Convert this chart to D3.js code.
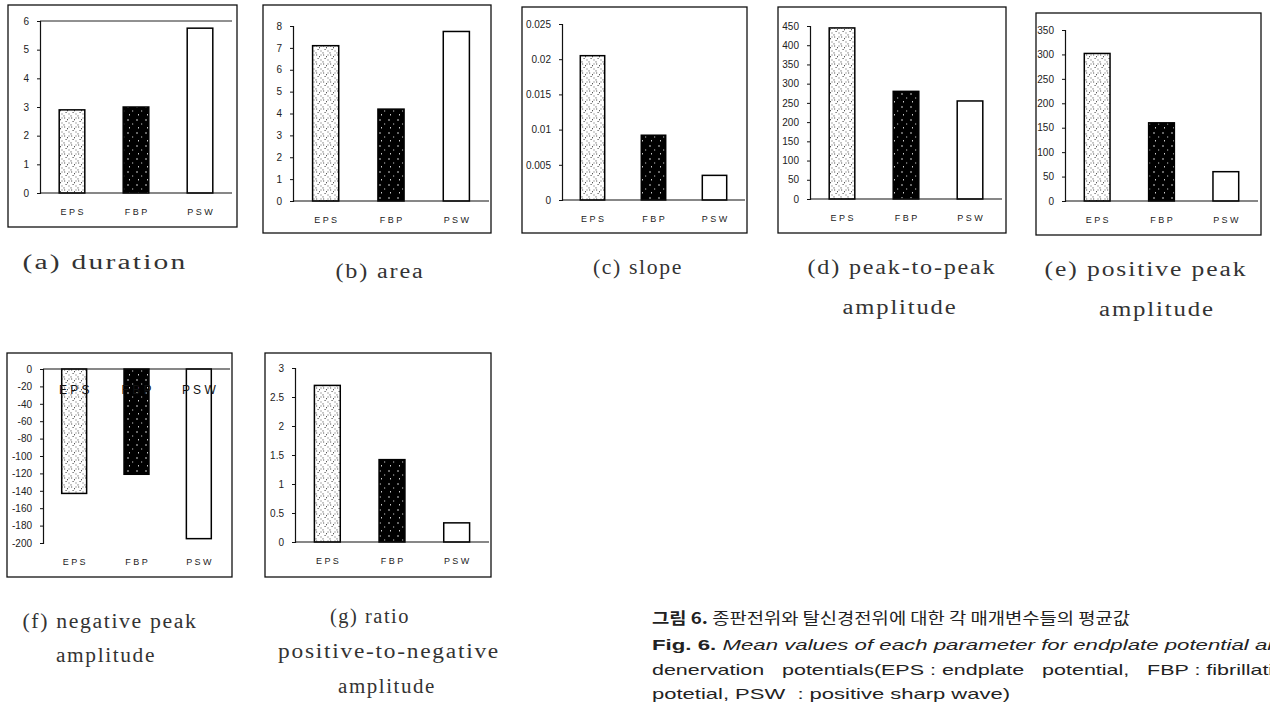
<!DOCTYPE html>
<html>
<head>
<meta charset="utf-8">
<script src="https://cdn.jsdelivr.net/npm/d3@7"></script>
<style>
body { margin: 0; background: #fff; }
svg { display: block; }
</style>
</head>
<body>
<div id="chart"></div>
<script>
// ---- data ----
var categories = ["EPS", "FBP", "PSW"];
var categoryLabels = ["E P S", "F B P", "P S W"];

var durationValues = [2.9, 3.0, 5.75];
var areaValues = [7.1, 4.2, 7.75];
var slopeValues = [0.0205, 0.0092, 0.0035];
var peakToPeakValues = [445, 280, 255];
var positivePeakValues = [302, 160, 60];
var negativePeakValues = [-143, -121, -195];
var ratioValues = [2.7, 1.42, 0.33];

var durationTicks = [0, 1, 2, 3, 4, 5, 6];
var areaTicks = [0, 1, 2, 3, 4, 5, 6, 7, 8];
var slopeTicks = [0, 0.005, 0.01, 0.015, 0.02, 0.025];
var peakToPeakTicks = [0, 50, 100, 150, 200, 250, 300, 350, 400, 450];
var positivePeakTicks = [0, 50, 100, 150, 200, 250, 300, 350];
var negativePeakTicks = [0, -20, -40, -60, -80, -100, -120, -140, -160, -180, -200];
var ratioTicks = [0, 0.5, 1, 1.5, 2, 2.5, 3];

var panelCaptions = [
	["(a) duration"],
	["(b) area"],
	["(c) slope"],
	["(d) peak-to-peak", "amplitude"],
	["(e) positive peak", "amplitude"],
	["(f) negative peak", "amplitude"],
	["(g) ratio", "positive-to-negative", "amplitude"]
];

var figureTitleKo = "종판전위와 탈신경전위에 대한 각 매개변수들의 평균값";
var figureTitleEn = "Mean values of each parameter for endplate potential and";
var figureNote1 = "denervation   potentials(EPS : endplate   potential,   FBP : fibrillation";
var figureNote2 = "potetial, PSW  : positive sharp wave)";

// ---- layout (positions only) ----
var layout = [
	{ values: durationValues, ticks: durationTicks, frame: [8, 5, 229, 222], plot: [40, 232, 21, 193], cap: [[105, 269, 165]], topBorder: true },
	{ values: areaValues, ticks: areaTicks, frame: [263, 5, 228, 228], plot: [293, 489, 26, 201], cap: [[380, 278, 89]] },
	{ values: slopeValues, ticks: slopeTicks, frame: [522, 7, 225, 226], plot: [562, 745, 24, 200], cap: [[638, 274, 90]] },
	{ values: peakToPeakValues, ticks: peakToPeakTicks, frame: [778, 7, 228, 226], plot: [810, 1002, 26, 199], cap: [[902, 274, 189], [900, 314, 115]] },
	{ values: positivePeakValues, ticks: positivePeakTicks, frame: [1036, 13, 225, 222], plot: [1065, 1258, 30, 201], cap: [[1146, 276, 203], [1157, 316, 116]] },
	{ values: negativePeakValues, ticks: negativePeakTicks, frame: [7, 353, 225, 224], plot: [43, 230, 369, 543], cap: [[110, 628, 175], [106, 662, 100]], topLabels: true },
	{ values: ratioValues, ticks: ratioTicks, frame: [265, 353, 226, 224], plot: [295, 489, 368, 542], cap: [[370, 623, 80], [389, 658, 222], [387, 693, 98]] }
];

var W = 1270, H = 703;
var svg = d3.select("#chart").append("svg")
	.attr("width", W)
	.attr("height", H)
	.style("background", "#fff");

// fill textures for the scanned bars
var defs = svg.append("defs");
var light = defs.append("pattern")
	.attr("id", "epsFill")
	.attr("width", 7).attr("height", 9)
	.attr("patternUnits", "userSpaceOnUse");
light.append("rect").attr("width", 7).attr("height", 9).attr("fill", "#fff");
light.append("path")
	.attr("d", "M1 1h1.2M4.5 2v1.3M2.5 4.5h1.2M5.5 6h1M1 7.3v1.2M6 0.5v1")
	.attr("stroke", "#444").attr("stroke-width", 0.9);

var dark = defs.append("pattern")
	.attr("id", "fbpFill")
	.attr("width", 9).attr("height", 13)
	.attr("patternUnits", "userSpaceOnUse");
dark.append("rect").attr("width", 9).attr("height", 13).attr("fill", "#000");
dark.append("path")
	.attr("d", "M2 2v2M6 7h1.2M3.5 10v1.5")
	.attr("stroke", "#fff").attr("stroke-width", 0.8);

var fills = ["url(#epsFill)", "url(#fbpFill)", "#fff"];
var fmt = function(d) { return String(d); };

layout.forEach(function(p, i) {
	var g = svg.append("g").attr("class", "panel panel-" + i);
	var left = p.plot[0], right = p.plot[1], top = p.plot[2], bottom = p.plot[3];

	g.append("rect")
		.attr("x", p.frame[0]).attr("y", p.frame[1])
		.attr("width", p.frame[2]).attr("height", p.frame[3])
		.attr("fill", "none")
		.attr("stroke", "#111")
		.attr("stroke-width", 1.3);

	var x = d3.scaleBand()
		.domain(categories)
		.range([left, right])
		.paddingInner(0.6)
		.paddingOuter(0.3);

	var ext = d3.extent(p.ticks);
	var y = d3.scaleLinear().domain(ext).range([bottom, top]);

	if (p.topBorder) {
		g.append("line")
			.attr("x1", left).attr("x2", right)
			.attr("y1", top).attr("y2", top)
			.attr("stroke", "#222").attr("stroke-width", 1);
	}

	// bars
	g.selectAll("rect.bar")
		.data(p.values)
		.enter().append("rect")
		.attr("class", "bar")
		.attr("x", function(d, j) { return x(categories[j]); })
		.attr("width", x.bandwidth())
		.attr("y", function(d) { return Math.min(y(0), y(d)); })
		.attr("height", function(d) { return Math.abs(y(d) - y(0)); })
		.attr("fill", function(d, j) { return fills[j]; })
		.attr("stroke", "#000")
		.attr("stroke-width", 1.5);

	// value axis
	var yAxis = d3.axisLeft(y)
		.tickValues(p.ticks)
		.tickSize(3)
		.tickPadding(8)
		.tickFormat(fmt);
	var ya = g.append("g")
		.attr("transform", "translate(" + left + ",0)")
		.call(yAxis);
	ya.select(".domain").attr("stroke", "#111").attr("stroke-width", 1.2);
	ya.selectAll("line").attr("stroke", "#111");
	ya.selectAll("text")
		.attr("font-family", "'Liberation Sans', Arial, sans-serif")
		.attr("font-size", 10)
		.attr("fill", "#222");

	// category baseline at zero
	g.append("line")
		.attr("x1", left).attr("x2", right)
		.attr("y1", y(0)).attr("y2", y(0))
		.attr("stroke", "#111").attr("stroke-width", 1.2);

	// category labels under the plot
	g.selectAll("text.cat")
		.data(categoryLabels)
		.enter().append("text")
		.attr("class", "cat")
		.attr("x", function(d, j) { return x(categories[j]) + x.bandwidth() / 2; })
		.attr("y", bottom + 22)
		.attr("text-anchor", "middle")
		.attr("font-family", "'Liberation Sans', Arial, sans-serif")
		.attr("font-size", 9)
		.attr("fill", "#222")
		.text(function(d) { return d; });

	if (p.topLabels) {
		g.selectAll("text.catTop")
			.data(categoryLabels)
			.enter().append("text")
			.attr("class", "catTop")
			.attr("x", function(d, j) { return x(categories[j]) + x.bandwidth() / 2; })
			.attr("y", top + 25)
			.attr("text-anchor", "middle")
			.attr("font-family", "'Liberation Sans', Arial, sans-serif")
			.attr("font-size", 12)
			.attr("fill", "#111")
			.text(function(d) { return d; });
	}

	// sub caption
	p.cap.forEach(function(c, k) {
		svg.append("text")
			.attr("x", c[0])
			.attr("y", c[1])
			.attr("text-anchor", "middle")
			.attr("font-family", "'Liberation Serif', 'DejaVu Serif', serif")
			.attr("font-size", 20)
			.attr("letter-spacing", 1.5)
			.attr("fill", "#333")
			.attr("textLength", c[2])
			.attr("lengthAdjust", "spacingAndGlyphs")
			.text(panelCaptions[i][k]);
	});
});

// figure caption (bottom right)
var cap = svg.append("g")
	.attr("font-family", "'Noto Sans CJK KR', 'Noto Sans', sans-serif")
	.attr("fill", "#222");

var t1 = cap.append("text").attr("x", 652).attr("y", 624).attr("font-size", 15.5)
	.attr("textLength", 478).attr("lengthAdjust", "spacingAndGlyphs");
t1.append("tspan").attr("font-weight", "bold").text("그림 6.");
t1.append("tspan").text(" " + figureTitleKo);

var t2 = cap.append("text").attr("x", 652).attr("y", 650).attr("font-size", 15)
	.attr("font-family", "'Liberation Sans', Arial, sans-serif")
	.attr("textLength", 640).attr("lengthAdjust", "spacingAndGlyphs");
t2.append("tspan").attr("font-weight", "bold").text("Fig. 6.");
t2.append("tspan").attr("font-style", "italic").text(" " + figureTitleEn);

cap.append("text").attr("x", 652).attr("y", 675).attr("font-size", 15)
	.attr("font-family", "'Liberation Sans', Arial, sans-serif")
	.style("white-space", "pre")
	.attr("textLength", 645).attr("lengthAdjust", "spacingAndGlyphs")
	.text(figureNote1);

cap.append("text").attr("x", 652).attr("y", 699).attr("font-size", 15)
	.attr("font-family", "'Liberation Sans', Arial, sans-serif")
	.style("white-space", "pre")
	.attr("textLength", 358).attr("lengthAdjust", "spacingAndGlyphs")
	.text(figureNote2);
</script>
</body>
</html>
